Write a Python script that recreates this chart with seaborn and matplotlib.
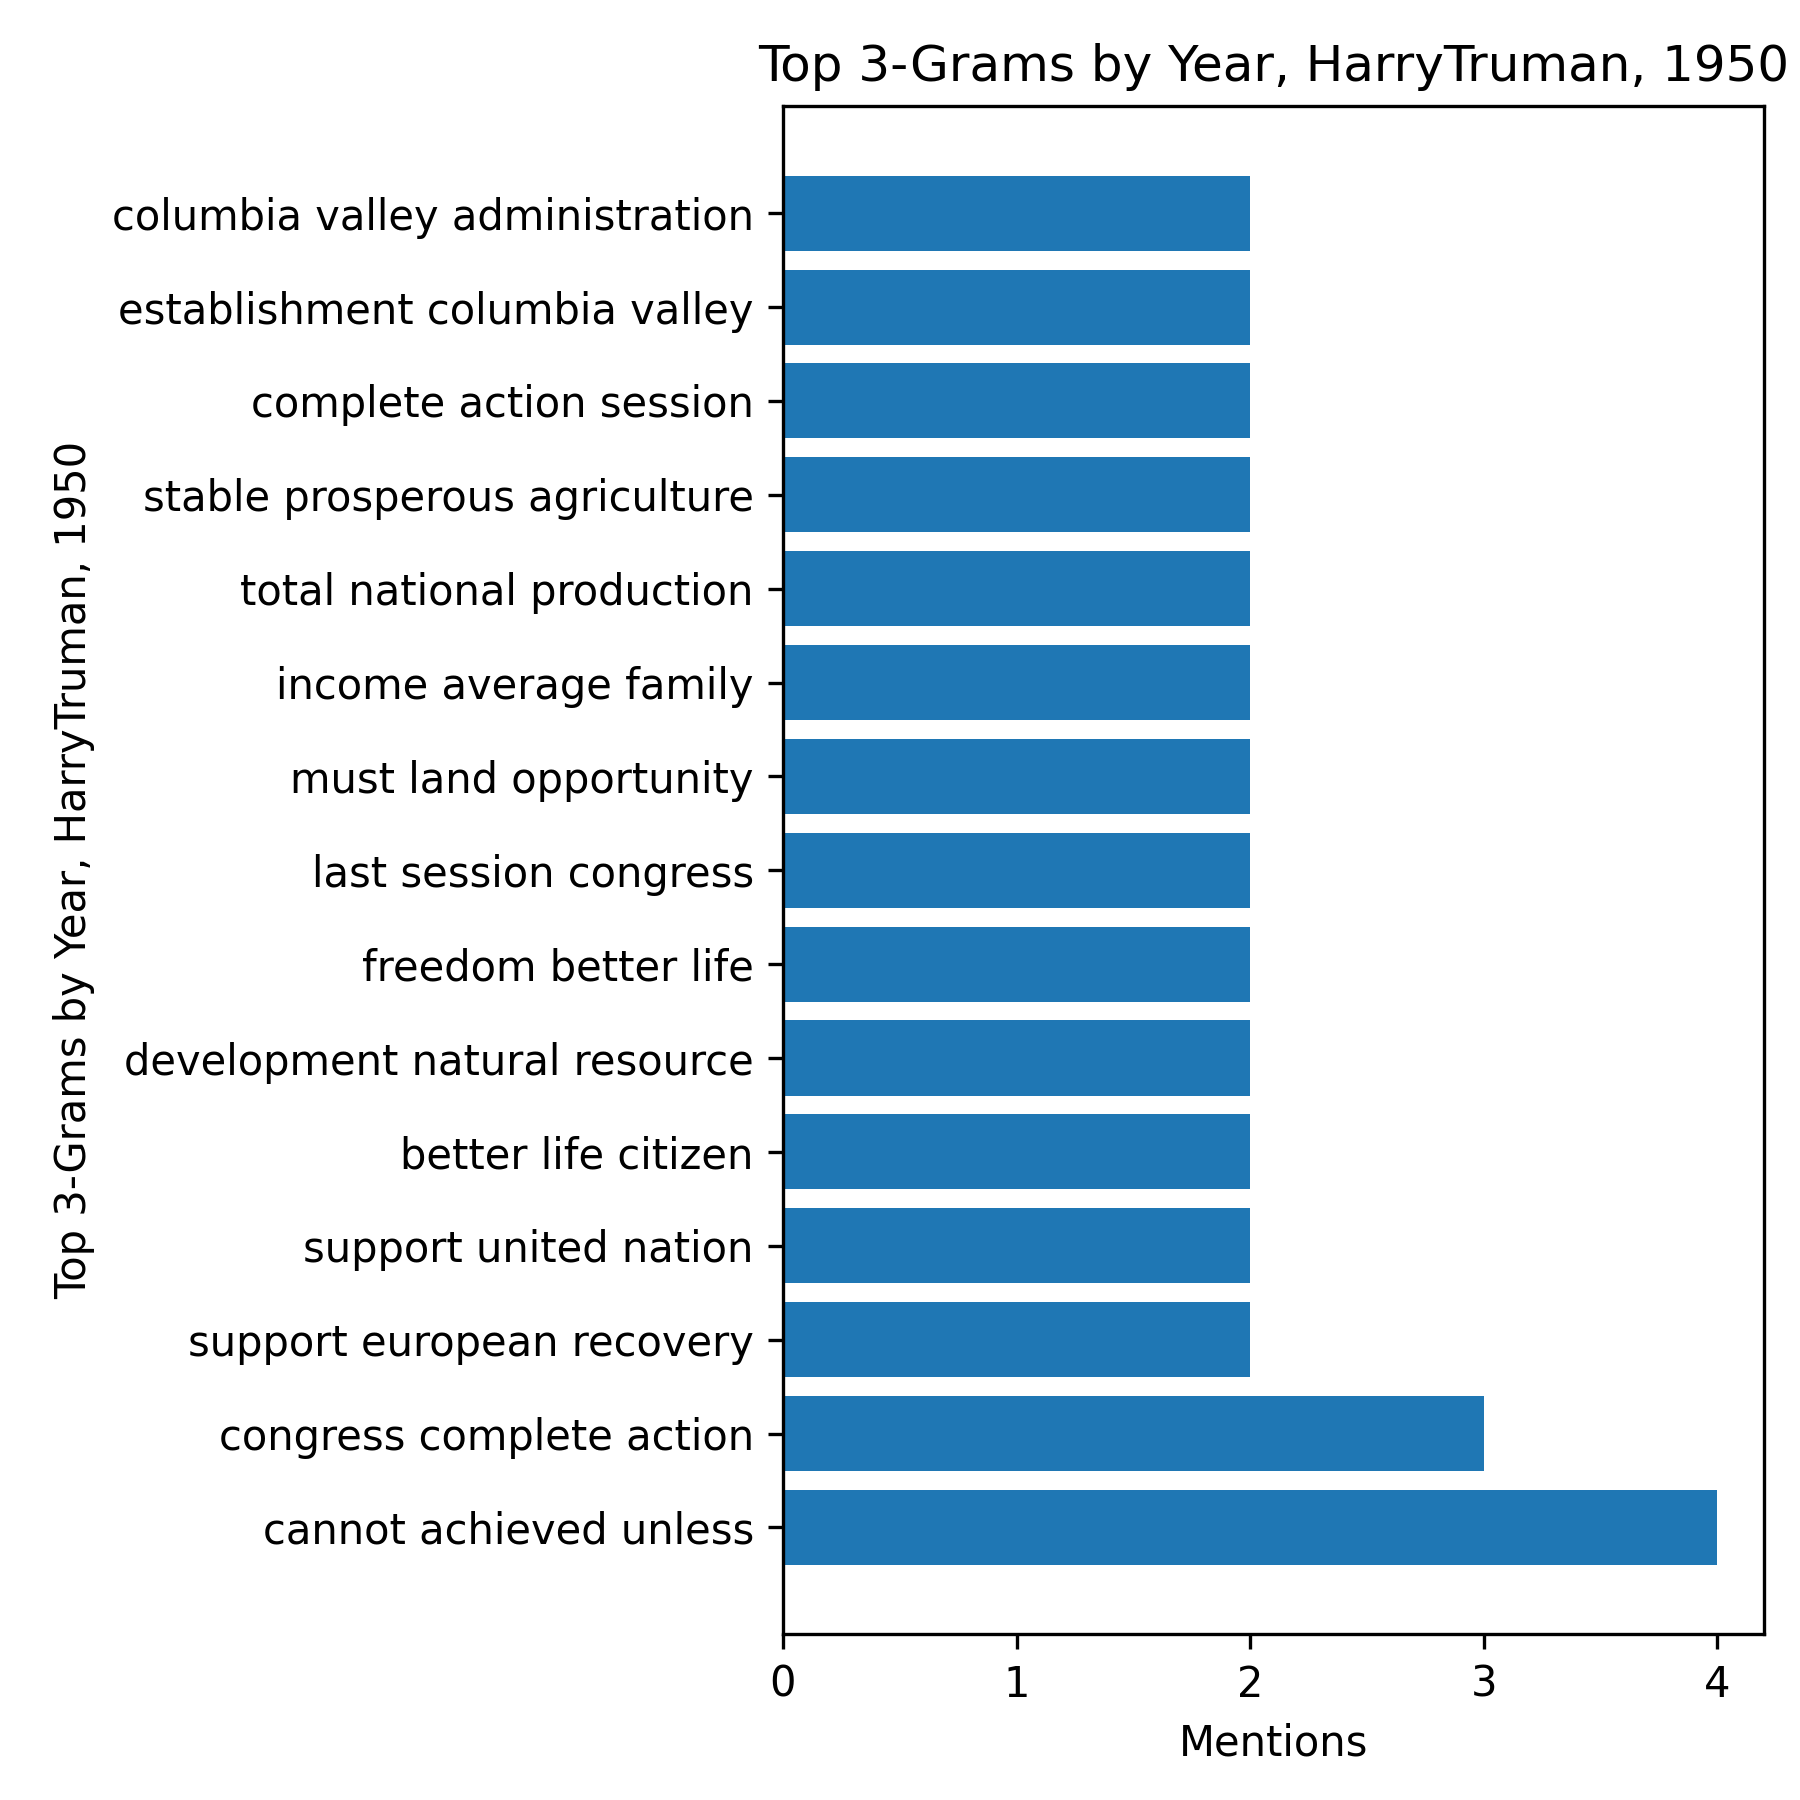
import matplotlib
matplotlib.use("Agg")
import matplotlib.pyplot as plt
import seaborn as sns
import pandas as pd

ngrams = ["columbia valley administration", "establishment columbia valley",
          "complete action session", "stable prosperous agriculture",
          "total national production", "income average family",
          "must land opportunity", "last session congress",
          "freedom better life", "development natural resource",
          "better life citizen", "support united nation",
          "support european recovery", "congress complete action",
          "cannot achieved unless"]
mentions = [2, 2, 2, 2, 2, 2, 2, 2, 2, 2, 2, 2, 2, 3, 4]

df = pd.DataFrame({"ngram": ngrams, "mentions": mentions})
fig = plt.figure(figsize=(6, 6), dpi=300)
ax = fig.add_axes([0.435, 0.092, 0.545, 0.849])
sns.barplot(data=df, x="mentions", y="ngram", orient="h", color="#1f77b4",
            saturation=1, width=0.8, ax=ax)
ax.set_ylim(15.14, -1.14)
ax.set_xlim(0, 4.2)
ax.set_xticks([0, 1, 2, 3, 4])
ax.set_xlabel("Mentions")
ax.set_ylabel("Top 3-Grams by Year, HarryTruman, 1950")
ax.set_title("Top 3-Grams by Year, HarryTruman, 1950")
fig.savefig("out.png", dpi=300)
